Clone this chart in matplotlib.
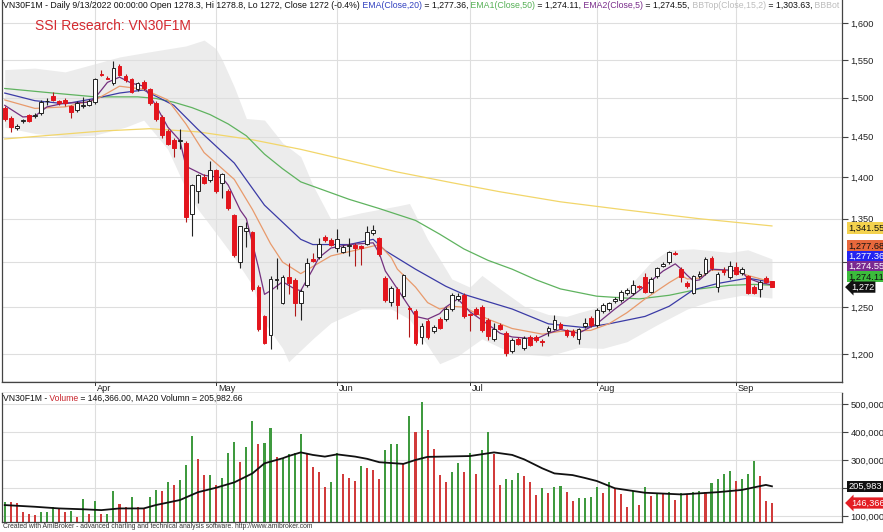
import numpy as np
import matplotlib.pyplot as plt
import matplotlib.transforms as mtransforms
from matplotlib.ticker import FuncFormatter, FixedLocator, NullLocator

plt.rcParams['font.family'] = ['Liberation Sans', 'DejaVu Sans']

W, H = 883, 532

# ---- data (bar index 0 = 2022-03-11, last = 2022-09-13) ----
months = ['Apr', 'May', 'Jun', 'Jul', 'Aug', 'Sep']
month_start = [15, 35, 55, 77, 98, 121]

opens = [1486, 1474, 1461, 1470, 1477, 1476, 1480, 1495, 1502, 1495,
         1497, 1489, 1484, 1489, 1491, 1494, 1531, 1526, 1519, 1542,
         1529, 1524, 1511, 1521, 1511, 1493, 1475, 1457, 1446, 1444,
         1442, 1356, 1383, 1400, 1396, 1408, 1393, 1383, 1354, 1300,
         1336, 1334, 1272, 1240, 1220, 1280, 1255, 1283, 1280, 1254,
         1274, 1303, 1306, 1329, 1325, 1316, 1312, 1318, 1320, 1318,
         1321, 1333, 1327, 1282, 1256, 1270, 1262, 1249, 1246, 1218,
         1235, 1224, 1237, 1237, 1248, 1259, 1263, 1243, 1248, 1250,
         1236, 1216, 1231, 1222, 1203, 1216, 1206, 1218, 1218, 1214,
         1224, 1227, 1232, 1225, 1224, 1216, 1230, 1238, 1231, 1246,
         1248, 1257, 1258, 1265, 1265, 1273, 1283, 1267, 1284, 1296,
         1300, 1310, 1292, 1277, 1266, 1284, 1288, 1305, 1272, 1291,
         1283, 1295, 1288, 1284, 1272, 1270, 1282, 1278.3]
highs = [1489, 1476, 1466, 1473, 1479, 1480, 1497, 1500, 1508, 1497,
         1499, 1491, 1495, 1501, 1498, 1526, 1537, 1529, 1548, 1544,
         1531, 1526, 1521, 1523, 1513, 1495, 1477, 1459, 1448, 1459,
         1444, 1392, 1404, 1403, 1419, 1410, 1405, 1385, 1356, 1342,
         1346, 1336, 1274, 1242, 1284, 1305, 1285, 1299, 1282, 1270,
         1305, 1310, 1327, 1331, 1327, 1338, 1320, 1328, 1322, 1320,
         1342, 1343, 1329, 1284, 1273, 1272, 1287, 1251, 1248, 1233,
         1237, 1231, 1239, 1250, 1266, 1266, 1265, 1244, 1250, 1252,
         1238, 1233, 1233, 1224, 1217, 1218, 1219, 1220, 1220, 1216,
         1230, 1242, 1234, 1227, 1226, 1228, 1238, 1240, 1249, 1254,
         1256, 1261, 1269, 1271, 1280, 1274, 1288, 1283, 1295, 1300,
         1313, 1313, 1294, 1279, 1286, 1290, 1306, 1307, 1289, 1295,
         1301, 1300, 1294, 1286, 1274, 1280, 1284, 1278.8]
lows = [1470, 1456, 1458, 1467, 1468, 1474, 1478, 1491, 1495, 1491,
        1489, 1474, 1482, 1487, 1489, 1492, 1528, 1524, 1517, 1528,
        1521, 1506, 1509, 1510, 1490, 1470, 1448, 1439, 1425, 1434,
        1346, 1330, 1369, 1391, 1394, 1381, 1375, 1360, 1306, 1293,
        1317, 1268, 1224, 1211, 1205, 1270, 1253, 1264, 1240, 1236,
        1272, 1300, 1304, 1323, 1318, 1311, 1310, 1307, 1296, 1297,
        1319, 1331, 1307, 1256, 1251, 1237, 1260, 1218, 1210, 1211,
        1216, 1222, 1226, 1235, 1246, 1257, 1238, 1224, 1241, 1223,
        1215, 1214, 1225, 1198, 1201, 1209, 1204, 1208, 1213, 1208,
        1219, 1225, 1226, 1218, 1218, 1211, 1228, 1229, 1229, 1244,
        1246, 1255, 1256, 1263, 1263, 1270, 1265, 1265, 1282, 1294,
        1298, 1308, 1278, 1271, 1264, 1282, 1286, 1291, 1267, 1285,
        1281, 1285, 1286, 1264, 1264, 1261, 1277, 1272]
closes = [1473, 1462, 1464, 1471, 1470, 1478, 1494, 1496, 1497, 1493,
          1493, 1481, 1493, 1491, 1496, 1524, 1530, 1525, 1539, 1530,
          1523, 1508, 1519, 1512, 1493, 1473, 1452, 1441, 1436, 1446,
          1352, 1390, 1402, 1393, 1409, 1383, 1403, 1363, 1308, 1341,
          1339, 1270, 1227, 1212, 1281, 1281, 1283, 1277, 1254, 1268,
          1299, 1301, 1321, 1325, 1320, 1326, 1317, 1319, 1316, 1316,
          1335, 1337, 1309, 1258, 1271, 1252, 1285, 1248, 1212, 1230,
          1218, 1229, 1228, 1248, 1263, 1262, 1240, 1242, 1243, 1225,
          1219, 1226, 1227, 1201, 1215, 1211, 1217, 1210, 1215, 1213,
          1228, 1236, 1228, 1220, 1220, 1226, 1233, 1231, 1247, 1252,
          1254, 1259, 1267, 1269, 1274, 1272, 1267, 1281, 1293, 1298,
          1311, 1309, 1283, 1273, 1284, 1287, 1303, 1293, 1287, 1289,
          1296, 1287, 1292, 1266, 1266, 1278, 1278, 1272]

# volume in thousands of contracts, bar colour as drawn (g = green, r = red)
volume_k = [151, 151, 147, 115, 107, 104, 113, 113, 133, 125,
            115, 119, 98, 161, 106, 154, 106, 106, 189, 142,
            131, 169, 133, 125, 168, 193, 191, 222, 211, 229,
            282, 387, 302, 246, 246, 211, 235, 326, 363, 294,
            348, 439, 357, 360, 415, 312, 308, 320, 326, 392,
            320, 276, 256, 205, 220, 324, 250, 235, 226, 280,
            270, 264, 232, 336, 356, 357, 285, 457, 399, 506,
            407, 339, 246, 220, 258, 290, 258, 324, 249, 336,
            401, 320, 211, 231, 227, 252, 243, 220, 175, 199,
            183, 205, 207, 186, 155, 163, 163, 169, 203, 181,
            220, 196, 179, 131, 190, 139, 203, 171, 179, 181,
            187, 157, 183, 179, 187, 189, 187, 217, 231, 249,
            261, 226, 231, 249, 296, 243, 154, 146.366]
vol_colour = ("grrrrrgggr" "rgrgrgrggr" "rgrrggrgrg" "ggrrgrgggr"
              "ggrggrgggg" "rrrrggrrrg" "rrrgggrgrg" "rrrrggrgrg"
              "grrgggrrrg" "rggrrggggr" "grrrgrgrgr" "grgrggrggg"
              "grgggrrr")

ma20_idx = [0, 5, 9, 13, 16, 19, 23, 25, 29, 32, 35, 38, 41, 43, 46, 47, 49, 51,
            53, 55, 58, 60, 62, 66, 68, 70, 77, 81, 84, 86, 89, 91, 94, 96, 98,
            101, 106, 112, 118, 122, 126, 127]
ma20_k = [139, 133, 127, 124, 121, 127, 127, 139, 157, 185, 201, 220, 252, 288,
          306, 314, 327, 318, 312, 320, 312, 304, 292, 286, 300, 311, 314, 327,
          318, 302, 270, 252, 246, 236, 225, 199, 183, 177, 185, 193, 211, 205.98266]

# indicator lines
ema5_idx = [0, 3, 5, 7, 10, 14, 15, 17, 19, 21, 23, 25, 27, 29, 30, 33, 36, 37, 39,
            40, 42, 43, 44, 46, 48, 49, 51, 52, 54, 57, 61, 62, 63, 64, 65, 67, 68,
            70, 72, 73, 75, 76, 77, 79, 82, 84, 88, 90, 92, 95, 98, 101, 105, 109,
            111, 112, 113, 114, 115, 117, 120, 122, 123, 125, 127]
ema5 = [1490, 1475, 1476, 1488, 1493, 1494, 1500, 1520, 1527, 1519, 1515, 1490,
        1462, 1445, 1413, 1402, 1399, 1390, 1360, 1350, 1294, 1264, 1268, 1278,
        1270, 1268, 1292, 1305, 1316, 1320, 1322, 1310, 1290, 1280, 1270, 1250,
        1240, 1237, 1243, 1250, 1259, 1252, 1245, 1236, 1222, 1218, 1216, 1222,
        1226, 1222, 1232, 1248, 1268, 1290, 1298, 1292, 1285, 1279, 1280, 1292,
        1291, 1289, 1282, 1277, 1274.55]
ema10_idx = [0, 5, 10, 15, 19, 23, 27, 30, 33, 38, 41, 44, 46, 49, 51, 54, 59, 62,
             64, 65, 68, 70, 72, 74, 76, 80, 84, 89, 92, 97, 100, 103, 106, 110,
             112, 113, 115, 117, 121, 123, 127]
ema10 = [1497, 1486, 1488, 1497, 1515, 1511, 1497, 1466, 1430, 1397, 1361, 1321,
         1300, 1287, 1295, 1307, 1315, 1320, 1305, 1292, 1272, 1255, 1248, 1251,
         1250, 1237, 1227, 1221, 1224, 1225, 1232, 1244, 1259, 1277, 1285, 1281,
         1282, 1291, 1290, 1285, 1277.68]
ema20_idx = [0, 5, 10, 15, 19, 23, 28, 32, 38, 43, 49, 51, 57, 61, 63, 68, 73, 76,
             84, 90, 96, 100, 106, 110, 114, 118, 123, 127]
ema20 = [1506, 1496, 1492, 1499, 1506, 1510, 1490, 1459, 1417, 1366, 1326, 1320,
         1320, 1326, 1313, 1292, 1273, 1264, 1248, 1232, 1228, 1232, 1240, 1251,
         1269, 1276, 1282, 1277.36]
ema50_idx = [0, 8, 15, 22, 25, 28, 31, 34, 37, 40, 43, 46, 49, 57, 62, 68, 72, 76,
             80, 84, 88, 92, 98, 105, 110, 115, 120, 124, 127]
ema50 = [1512, 1506, 1501, 1501, 1499, 1494, 1487, 1478, 1466, 1451, 1428, 1410,
         1394, 1373, 1362, 1348, 1332, 1315, 1302, 1292, 1280, 1270, 1262, 1259,
         1263, 1270, 1274, 1275, 1274.11]
ma200_idx = [0, 16, 24, 32, 41, 49, 57, 65, 74, 82, 92, 102, 115, 127]
ma200 = [1447, 1457, 1460, 1456, 1446, 1434, 1420, 1406, 1393, 1382, 1370, 1361,
         1350, 1341.55]
bbtop_idx = [0, 5, 10, 15, 19, 24, 30, 33, 35, 36, 38, 40, 43, 46, 49, 51, 54, 59,
             65, 67, 70, 74, 77, 79, 82, 86, 90, 93, 95, 99, 103, 107, 110, 114,
             120, 123, 127]
bbtop = [1537, 1539, 1534, 1545, 1554, 1561, 1569, 1577, 1565, 1550, 1514, 1473,
         1471, 1442, 1425, 1390, 1349, 1357, 1365, 1368, 1326, 1281, 1272, 1285,
         1270, 1251, 1242, 1240, 1244, 1251, 1270, 1300, 1314, 1315, 1311, 1314,
         1303.63]
bbbot_idx = [0, 5, 10, 15, 20, 23, 27, 30, 32, 38, 41, 43, 46, 47, 51, 54, 59, 64,
             67, 70, 72, 75, 79, 84, 90, 95, 99, 103, 108, 113, 117, 122, 127]
bbbot = [1462, 1454, 1450, 1452, 1462, 1471, 1434, 1385, 1361, 1305, 1274, 1233,
         1206, 1192, 1216, 1233, 1248, 1248, 1237, 1209, 1190, 1198, 1216, 1201,
         1198, 1207, 1206, 1213, 1231, 1248, 1257, 1263, 1260]

price_ticks = [1200, 1250, 1300, 1350, 1400, 1450, 1500, 1550, 1600]
vol_ticks = [100000, 200000, 300000, 400000, 500000]

# ---- figure / panels ----
fig = plt.figure(figsize=(W / 100, H / 100), dpi=100)
fig.patch.set_facecolor('white')


def px_axes(x0, y0, x1, y1):
    return fig.add_axes([x0 / W, 1 - y1 / H, (x1 - x0) / W, (y1 - y0) / H])


ax = px_axes(2, 0, 842, 382)
axd = px_axes(2, 382, 842, 393)
axv = px_axes(2, 393, 842, 522)

idx = np.arange(len(closes))
xlim = (-0.45, 138.6)
grid_c = '#dedede'
frame_c = '#444444'
lab_size = 6.7

# ---- price panel ----
ax.set_yscale('log')
ax.set_xlim(*xlim)
ax.set_ylim(1171.2, 1633)

top_i = np.arange(0, 128)
band_top = np.interp(top_i, bbtop_idx, bbtop)
band_bot = np.interp(top_i, bbbot_idx, bbbot)
ax.fill_between(top_i, band_bot, band_top, color='#ececec', lw=0, zorder=1)

for p in price_ticks:
    ax.axhline(p, color=grid_c, lw=0.8, zorder=1.5)
for m in month_start:
    ax.axvline(m, color=grid_c, lw=0.8, zorder=1.5)

ax.plot(ma200_idx, ma200, color='#f2d66a', lw=0.9, zorder=2)
ax.plot(ema50_idx, ema50, color='#5fb35f', lw=0.9, zorder=2)
ax.plot(ema20_idx, ema20, color='#3b3ba6', lw=0.9, zorder=2)
ax.plot(ema10_idx, ema10, color='#e89a6c', lw=0.9, zorder=2)
ax.plot(ema5_idx, ema5, color='#74307f', lw=0.9, zorder=2)

o = np.array(opens, float)
c = np.array(closes, float)
up = c >= o
red = '#e3151d'
wick_cols = ['#222222' if u else '#b01818' for u in up]
ax.vlines(idx, lows, highs, colors=wick_cols, lw=0.8, zorder=3)
ax.bar(idx[up], (c - o)[up], bottom=o[up], width=0.62, color='white',
       edgecolor='#222222', lw=0.7, zorder=4)
ax.bar(idx[~up], (o - c)[~up], bottom=c[~up], width=0.62, color=red,
       edgecolor=red, lw=0.7, zorder=4)

ax.yaxis.tick_right()
ax.yaxis.set_major_locator(FixedLocator(price_ticks))
ax.yaxis.set_minor_locator(NullLocator())
# 1,300 sits behind the stacked value labels in the original
ax.yaxis.set_major_formatter(FuncFormatter(lambda v, _: '' if v == 1300 else f'{v:,.0f}'))
ax.tick_params(axis='y', direction='out', length=4, width=0.8, pad=2,
               labelsize=lab_size, labelcolor='#222222', color=frame_c)
ax.set_xticks([])
ax.spines['top'].set_visible(False)
for s in ['left', 'right', 'bottom']:
    ax.spines[s].set_color(frame_c)
    ax.spines[s].set_linewidth(0.9)

ax.text(33 / 840, 1 - 25.5 / 382, 'SSI Research: VN30F1M', transform=ax.transAxes,
        color='#d42a30', fontsize=10, ha='left', va='center')

# right-hand value labels, stacked upward from the close
ytrans = mtransforms.blended_transform_factory(ax.transAxes, ax.transData)
ax.annotate(f'{ma200[-1]:,.2f}', xy=(1, ma200[-1]), xycoords=ytrans,
            xytext=(4.6, -1.5), textcoords='offset points', fontsize=lab_size,
            va='center', ha='left', color='#111111', annotation_clip=False,
            bbox=dict(boxstyle='square,pad=0.12', fc='#f4d24e', ec='none'))
stack = [(ema10[-1], '#e8683c', '#111111'),
         (ema20[-1], '#2424f0', 'white'),
         (ema5[-1], '#7a2a90', 'white'),
         (ema50[-1], '#3cbc3c', '#111111')]
step_pt = 10.3 * 0.72
for k, (v, fc, tc) in enumerate(stack):
    ax.annotate(f'{v:,.2f}', xy=(1, closes[-1]), xycoords=ytrans,
                xytext=(4.6, step_pt * (len(stack) - k)), textcoords='offset points',
                fontsize=lab_size, va='center', ha='left', color=tc,
                annotation_clip=False,
                bbox=dict(boxstyle='square,pad=0.12', fc=fc, ec='none'))
ax.annotate(f'{closes[-1]:,.0f}', xy=(1, closes[-1]), xycoords=ytrans,
            xytext=(6.5, 0), textcoords='offset points', fontsize=lab_size,
            va='center', ha='left', color='white', annotation_clip=False,
            bbox=dict(boxstyle='larrow,pad=0.12', fc='#111111', ec='none'))

# ---- date strip ----
axd.set_xlim(*xlim)
axd.set_ylim(0, 1)
axd.set_xticks([])
axd.set_yticks([])
for s in ['left', 'right']:
    axd.spines[s].set_visible(False)
for s in ['top', 'bottom']:
    axd.spines[s].set_color(frame_c)
    axd.spines[s].set_linewidth(0.9)
for m, name in zip(month_start, months):
    axd.plot([m, m], [0.72, 1.0], color='#333333', lw=0.7)
    axd.text(m + 0.3, 0.42, name, fontsize=6.6, color='#222222', ha='left', va='center')

# ---- volume panel ----
vol = np.array(volume_k) * 1000
axv.set_xlim(*xlim)
axv.set_ylim(78600, 539000)
for v in vol_ticks:
    axv.axhline(v, color=grid_c, lw=0.8, zorder=1)
for m in month_start:
    axv.axvline(m, color=grid_c, lw=0.8, zorder=1)
bar_cols = ['#3f9a3f' if ch == 'g' else '#d13b3b' for ch in vol_colour]
axv.bar(idx, vol, width=0.34, color=bar_cols, zorder=2)
axv.plot(ma20_idx, np.array(ma20_k) * 1000, color='#111111', lw=1.3, zorder=3)

axv.yaxis.tick_right()
axv.yaxis.set_major_locator(FixedLocator(vol_ticks))
# 200,000 is covered by the MA20 value label in the original
axv.yaxis.set_major_formatter(FuncFormatter(lambda v, _: '' if v == 200000 else f'{v:,.0f}'))
axv.tick_params(axis='y', direction='out', length=4, width=0.8, pad=2,
                labelsize=lab_size, labelcolor='#222222', color=frame_c)
axv.set_xticks([])
axv.spines['top'].set_visible(False)
for s in ['left', 'right', 'bottom']:
    axv.spines[s].set_color(frame_c)
    axv.spines[s].set_linewidth(0.9)

vtrans = mtransforms.blended_transform_factory(axv.transAxes, axv.transData)
ma_last = ma20_k[-1] * 1000
axv.annotate(f'{ma_last:,.0f}', xy=(1, ma_last), xycoords=vtrans,
             xytext=(4.6, 0), textcoords='offset points', fontsize=lab_size,
             va='center', ha='left', color='white', annotation_clip=False,
             bbox=dict(boxstyle='square,pad=0.12', fc='#111111', ec='none'))
axv.annotate(f'{vol[-1]:,.0f}', xy=(1, vol[-1]), xycoords=vtrans,
             xytext=(6.5, 0), textcoords='offset points', fontsize=lab_size,
             va='center', ha='left', color='white', annotation_clip=False,
             bbox=dict(boxstyle='larrow,pad=0.12', fc='#e31e24', ec='none'))

# ---- header texts, laid out segment by segment ----
fig.canvas.draw()
renderer = fig.canvas.get_renderer()


def put_segments(segs, x_px, y_px, size, clip_ax=None):
    for s, col in segs:
        t = fig.text(x_px / W, 1 - y_px / H, s, color=col, fontsize=size,
                     ha='left', va='center')
        if clip_ax is not None:
            t.set_clip_box(clip_ax.bbox)
            t.set_clip_on(True)
        x_px += t.get_window_extent(renderer=renderer).width


header = [
    ('VN30F1M - Daily 9/13/2022 00:00:00 Open 1278.3, Hi 1278.8, Lo 1272, '
     'Close 1272 (-0.4%)', '#111111'),
    (' EMA(Close,20)', '#3040c0'),
    (f' = {ema20[-1]:,.2f},', '#111111'),
    (' EMA1(Close,50)', '#55b055'),
    (f' = {ema50[-1]:,.2f},', '#111111'),
    (' EMA2(Close,5)', '#7a2d8b'),
    (f' = {ema5[-1]:,.2f},', '#111111'),
    (' BBTop(Close,15,2)', '#bdbdbd'),
    (f' = {bbtop[-1]:,.2f},', '#111111'),
    (' BBBot', '#bdbdbd'),
]
put_segments(header, 3, 5.5, 6.3, clip_ax=ax)

vol_header = [
    ('VN30F1M -', '#111111'),
    (' Volume', '#c8242c'),
    (f' = {vol[-1]:,.2f}, MA20 Volumn = {ma_last:,.2f}', '#111111'),
]
put_segments(vol_header, 3, 398.5, 6.2)

fig.text(3 / W, 1 - 527 / H,
         'Created with AmiBroker - advanced charting and technical analysis software. '
         'http://www.amibroker.com', fontsize=4.9, color='#333333', ha='left', va='center')

fig.savefig('out.png', dpi=100)
